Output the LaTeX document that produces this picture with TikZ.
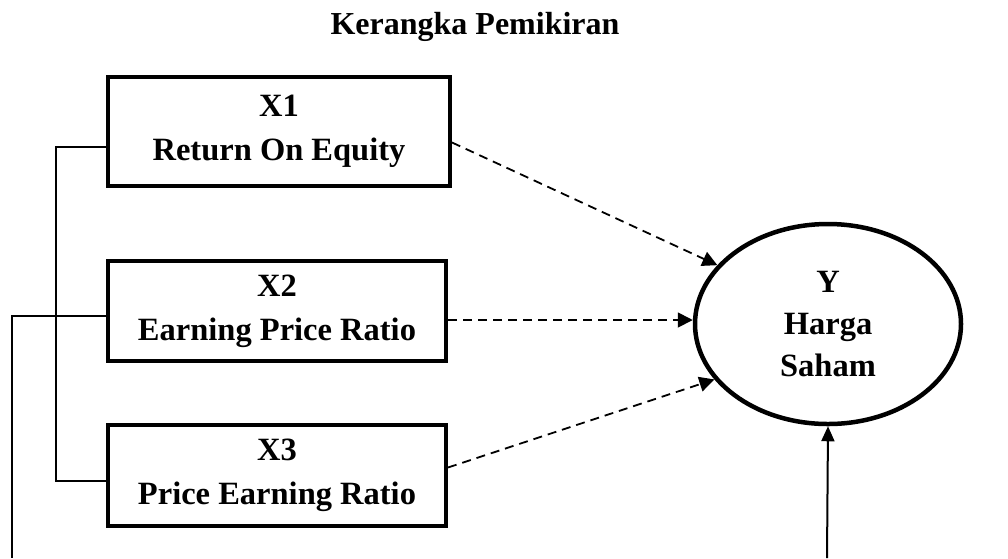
\documentclass[tikz,border=0pt]{standalone}
\usepackage{fontspec}
\setmainfont{Liberation Serif}
\usetikzlibrary{arrows.meta,positioning,calc,shapes.geometric}
\tikzset{
  % variable boxes
  varbox/.style={rectangle,draw,line width=4pt,align=center,inner sep=0pt,
    font=\fontsize{32.5}{44}\selectfont\bfseries},
  % dependent variable
  depvar/.style={ellipse,draw,line width=4.5pt,align=center,inner sep=0pt,
    minimum width=266pt,minimum height=200pt,
    font=\fontsize{32.5}{42}\selectfont\bfseries},
  % links
  effect/.style={line width=1.8pt,dash pattern=on 9pt off 6pt,
    -{Triangle[length=15pt,width=15pt]}},
  bracket/.style={line width=2pt},
  resid/.style={line width=2pt,-{Triangle[length=15pt,width=13pt]}},
}

\begin{document}
\begin{tikzpicture}[x=1pt,y=-1pt]
\useasboundingbox (0,0) rectangle (1008,558);

% title
\node[font=\fontsize{32}{40}\selectfont\bfseries] (title) at (475,27) {Kerangka Pemikiran};

%% independent variables
\node[varbox,minimum width=342pt,minimum height=109pt] (x1) at (279,131.5) {X1\\Return On Equity};
\node[varbox,minimum width=338pt,minimum height=100pt] (x2) at (277,311) {X2\\Earning Price Ratio};
\node[varbox,minimum width=338pt,minimum height=101pt] (x3) at (277,475.5) {X3\\Price Earning Ratio};

%% dependent variable
\node[depvar] (y) at (828,324) {Y\\Harga\\Saham};

%% dashed effects X -> Y
\coordinate (s2) at ($(x2.east)+(0,9)$);
\draw[effect] ($(x1.east)+(0,11)$) -- (y.152);
\draw[effect] (s2) -- (s2 -| y.west);
\draw[effect] ($(x3.east)+(0,-8)$) -- (y.206);

%% bracket joining X1 and X3
\coordinate (bk) at (56,0);
\draw[bracket] ($(x1.west)+(0,15.5)$) -| ($(bk)+(0,481)$) -- ($(x3.west)+(0,5.5)$);

%% lines running off the bottom edge
\coordinate (lowL) at (12,558);
\coordinate (lowR) at (827,558);
\draw[bracket] ($(x2.west)+(0,5)$) -| (lowL);
\draw[resid] (lowR) -- (y.south);
\end{tikzpicture}
\end{document}
